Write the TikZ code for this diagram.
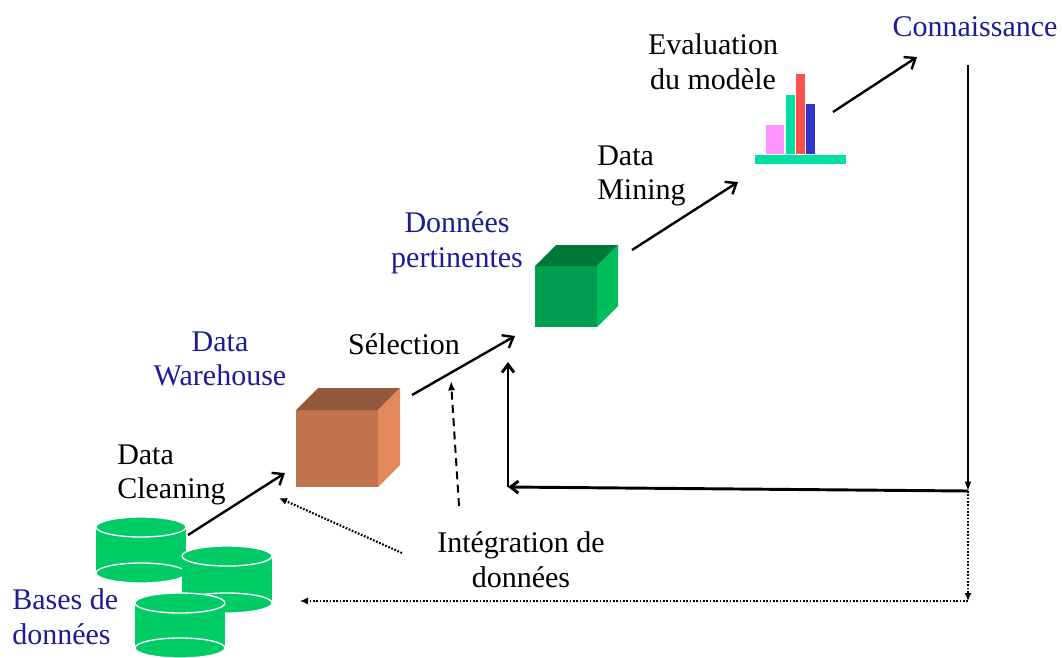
\documentclass[tikz,border=0pt]{standalone}
\usepackage{fontspec}
\setmainfont{Liberation Serif}
\usetikzlibrary{arrows.meta}
\definecolor{dbgreen}{RGB}{0,204,102}
\definecolor{lblue}{RGB}{28,28,150}
\definecolor{ofront}{RGB}{192,114,76}
\definecolor{otop}{RGB}{146,90,60}
\definecolor{oside}{RGB}{226,136,90}
\definecolor{gfront}{RGB}{0,160,80}
\definecolor{gtop}{RGB}{0,120,58}
\definecolor{gside}{RGB}{0,190,92}
\definecolor{bpink}{RGB}{255,150,255}
\definecolor{bmint}{RGB}{0,224,160}
\definecolor{bred}{RGB}{255,80,80}
\definecolor{bblue}{RGB}{51,51,204}
\newcommand\dbcyl[4]{%
  \fill[dbgreen] (#1-#4,#2) rectangle (#1+#4,#3);
  \filldraw[dbgreen, draw=white, line width=1pt] (#1,#3) ellipse [x radius=#4, y radius=10];
  \filldraw[dbgreen, draw=white, line width=1pt] (#1,#2) ellipse [x radius=#4, y radius=10];
}
\begin{document}
\begin{tikzpicture}[x=0.75pt,y=-0.75pt,
  lbl/.style={inner sep=0pt, font=\fontsize{22.5}{26}\selectfont},
  blbl/.style={lbl, text=lblue},
  mainarrow/.style={line width=1.8pt, -{Straight Barb[length=7pt,width=11pt]}},
  thickarrow/.style={line width=2.2pt, -{Straight Barb[length=6pt,width=9pt]}},
  thinarrow/.style={line width=1.1pt, -{Latex[length=7pt,width=5pt]}},
  dotarrow/.style={line width=1.6pt, dash pattern=on 1.3pt off 1.2pt, -{Latex[length=6pt,width=5.5pt]}},
  dasharrow/.style={line width=1.5pt, dash pattern=on 6pt off 4pt, -{Latex[length=7pt,width=5.5pt]}}]
\useasboundingbox (0,0) rectangle (1062,657);
\fill[white] (0,0) rectangle (1062,657);

% databases
\dbcyl{141}{527}{573}{45}
\dbcyl{227}{556}{603}{45}
\dbcyl{180}{603}{648}{45}

% orange cube (data warehouse)
\fill[ofront] (296,410) rectangle (378,487);
\fill[otop] (296,410) -- (318,388) -- (400,388) -- (378,410) -- cycle;
\fill[oside] (378,410) -- (400,388) -- (400,465) -- (378,487) -- cycle;

% green cube
\fill[gfront] (535,266) rectangle (597,327);
\fill[gtop] (535,266) -- (556,245) -- (618,245) -- (597,266) -- cycle;
\fill[gside] (597,266) -- (618,245) -- (618,306) -- (597,327) -- cycle;

% bar chart
\fill[bmint] (755,155) rectangle (846,164);
\fill[bpink] (766,125) rectangle (784,154);
\fill[bmint] (786,95) rectangle (795,154);
\fill[bred] (796,74) rectangle (805,154);
\fill[bblue] (806,104) rectangle (815,154);

% labels
\node[blbl] (conn) at (975,27) {Connaissance};
\node[lbl, align=center] (eval) at (713,62) {Evaluation\\du modèle};
\node[lbl, align=left, anchor=west] (mining) at (597,176) {Data\\Mining};
\node[blbl, align=center] (pert) at (457,243) {Données\\pertinentes};
\node[lbl] (sel) at (404,344) {Sélection};
\node[blbl, align=center] (dw) at (220,359) {Data\\Warehouse};
\node[lbl, align=left, anchor=west] (clean) at (117,475) {Data\\Cleaning};
\node[blbl, align=left, anchor=west] (bases) at (12,617) {Bases de\\données};
\node[lbl, align=center] (integ) at (521,560) {Intégration de\\données};

% connector end points
\coordinate (c1a) at (188,535); \coordinate (c1b) at (285,473);
\coordinate (s1a) at (412,395); \coordinate (s1b) at (515,336);
\coordinate (m1a) at (632,250); \coordinate (m1b) at (738,182);
\coordinate (k1a) at (833,112); \coordinate (k1b) at (917,57);
\coordinate (rtop) at (968,65); \coordinate (rj) at (968,491);
\coordinate (corner) at (508,487); \coordinate (uptip) at (508,362);
\coordinate (rbot) at (968,601); \coordinate (dbend) at (300,601);
\coordinate (dsa) at (459,506); \coordinate (dsb) at (451,381);
\coordinate (dta) at (402,553); \coordinate (dtb) at (279,498);

% connectors
\draw[mainarrow] (c1a) -- (c1b);
\draw[mainarrow] (s1a) -- (s1b);
\draw[mainarrow] (m1a) -- (m1b);
\draw[mainarrow] (k1a) -- (k1b);
\draw[thinarrow] (rtop) -- (rj);
\draw[thickarrow] (rj) -- (corner);
\draw[thickarrow] (corner) -- (uptip);
\draw[dotarrow] (rj) -- (rbot);
\draw[dotarrow] (rbot) -- (dbend);
\draw[dasharrow] (dsa) -- (dsb);
\draw[dotarrow] (dta) -- (dtb);
\end{tikzpicture}
\end{document}
